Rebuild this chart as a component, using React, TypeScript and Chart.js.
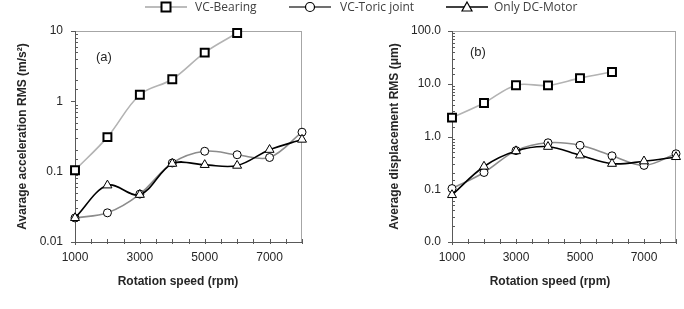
import React, { useEffect, useRef } from "react";
import { Chart, registerables } from "chart.js";

Chart.register(...registerables);

// ---- data ----
const speeds = [1000, 2000, 3000, 4000, 5000, 6000, 7000, 8000];
const bearingSpeeds = [1000, 2000, 3000, 4000, 5000, 6000];
const accBearing = [0.105, 0.31, 1.24, 2.06, 4.93, 9.35];
const accToric = [0.022, 0.026, 0.048, 0.133, 0.195, 0.174, 0.159, 0.364];
const accMotor = [0.022, 0.064, 0.047, 0.13, 0.125, 0.122, 0.205, 0.286];
const dispBearing = [2.28, 4.33, 9.4, 9.3, 12.8, 16.7];
const dispToric = [0.103, 0.208, 0.54, 0.76, 0.68, 0.43, 0.283, 0.47];
const dispMotor = [0.078, 0.27, 0.53, 0.64, 0.44, 0.305, 0.34, 0.41];
const xTickLabels = [1000, 3000, 5000, 7000];
const seriesNames = ["VC-Bearing", "VC-Toric joint", "Only DC-Motor"];
const xTitle = "Rotation speed (rpm)";

const FONT = "'Liberation Sans', Arial, sans-serif";
Chart.defaults.font.family = FONT;

const isPow10 = (v: number) => {
  const l = Math.log10(v);
  return Math.abs(l - Math.round(l)) < 1e-6;
};

type Panel = {
  label: string;
  yTitle: string;
  yMin: number;
  yMax: number;
  fmt: (v: number) => string;
  bearing: number[];
  toric: number[];
  motor: number[];
  axisWidth: number;
  tickPad: number;
  yTitlePad: number;
  padRight: number;
  panelDx: number;
  panelDy: number;
  xTitleDx: number;
};

const panels: Panel[] = [
  {
    label: "(a)",
    yTitle: "Avarage acceleration RMS (m/s\u00B2)",
    yMin: 0.01,
    yMax: 10,
    fmt: (v) => String(v),
    bearing: accBearing,
    toric: accToric,
    motor: accMotor,
    axisWidth: 75,
    tickPad: 12,
    yTitlePad: 15,
    padRight: 40,
    panelDx: 21,
    panelDy: 26,
    xTitleDx: 103,
  },
  {
    label: "(b)",
    yTitle: "Average displacement RMS (\u03BCm)",
    yMin: 0.01,
    yMax: 100,
    fmt: (v) => v.toFixed(1),
    bearing: dispBearing,
    toric: dispToric,
    motor: dispMotor,
    axisWidth: 110,
    tickPad: 11,
    yTitlePad: 45,
    padRight: 2,
    panelDx: 18,
    panelDy: 21,
    xTitleDx: 98,
  },
];

const crisp = (v: number) => Math.round(v) + 0.5;

function framePlugin(p: Panel) {
  return {
    id: "frame",
    beforeDatasetsDraw(chart: any) {
      const { ctx, chartArea, scales } = chart;
      const { left, right, top, bottom } = chartArea;
      const x = scales.x;
      const y = scales.y;
      ctx.save();
      ctx.lineWidth = 1;
      // light frame top/right
      ctx.strokeStyle = "#a6a6a6";
      ctx.beginPath();
      ctx.moveTo(left, crisp(top));
      ctx.lineTo(right, crisp(top));
      ctx.moveTo(crisp(right - 1), top);
      ctx.lineTo(crisp(right - 1), bottom);
      ctx.stroke();
      // axes
      ctx.strokeStyle = "#595959";
      ctx.beginPath();
      ctx.moveTo(crisp(left), top);
      ctx.lineTo(crisp(left), bottom + 3);
      ctx.moveTo(left, crisp(bottom));
      ctx.lineTo(right, crisp(bottom));
      // y ticks
      y.ticks.forEach((t: any) => {
        const py = crisp(y.getPixelForValue(t.value));
        if (isPow10(t.value)) {
          ctx.moveTo(left - 4, py);
          ctx.lineTo(left, py);
        } else {
          ctx.moveTo(left, py);
          ctx.lineTo(left + 3, py);
        }
      });
      // x ticks
      x.ticks.forEach((t: any) => {
        const px = crisp(x.getPixelForValue(t.value));
        ctx.moveTo(px, bottom - 3);
        ctx.lineTo(px, bottom + 2);
      });
      ctx.stroke();
      // panel label
      ctx.fillStyle = "#262626";
      ctx.font = `13px ${FONT}`;
      ctx.textAlign = "left";
      ctx.textBaseline = "middle";
      ctx.fillText(p.label, left + p.panelDx, top + p.panelDy);
      // x title
      ctx.font = `bold 12px ${FONT}`;
      ctx.textAlign = "center";
      ctx.fillText(xTitle, left + p.xTitleDx, bottom + 40);
      ctx.restore();
    },
  };
}

function buildConfig(p: Panel): any {
  const pts = (xs: number[], ys: number[]) => xs.map((x, i) => ({ x, y: ys[i] }));
  return {
    type: "line",
    data: {
      datasets: [
        {
          label: seriesNames[0],
          data: pts(bearingSpeeds, p.bearing),
          borderColor: "#b3b3b3",
          borderWidth: 1.6,
          pointStyle: "rect",
          pointRadius: 5.6,
          pointBorderWidth: 2,
          pointBorderColor: "#000",
          pointBackgroundColor: "#fff",
          tension: 0.35,
          clip: false,
          order: 2,
        },
        {
          label: seriesNames[1],
          data: pts(speeds, p.toric),
          borderColor: "#8c8c8c",
          borderWidth: 1.6,
          pointStyle: "circle",
          pointRadius: 4,
          pointBorderWidth: 1,
          pointBorderColor: "#000",
          pointBackgroundColor: "#fff",
          tension: 0.35,
          clip: false,
          order: 1,
        },
        {
          label: seriesNames[2],
          data: pts(speeds, p.motor),
          borderColor: "#000",
          borderWidth: 1.6,
          pointStyle: "triangle",
          pointRadius: 5.2,
          pointBorderWidth: 1,
          pointBorderColor: "#000",
          pointBackgroundColor: "#fff",
          tension: 0.35,
          clip: false,
          order: 0,
        },
      ],
    },
    options: {
      animation: false,
      responsive: false,
      devicePixelRatio: 1,
      events: [],
      layout: { padding: { top: 31, right: p.padRight, left: 0, bottom: 0 } },
      plugins: { legend: { display: false }, tooltip: { enabled: false } },
      scales: {
        x: {
          type: "linear",
          min: 1000,
          max: 8000,
          grid: { display: false, drawTicks: false },
          border: { display: false },
          ticks: {
            stepSize: 500,
            autoSkip: false,
            maxRotation: 0,
            padding: 8,
            color: "#262626",
            font: { size: 12 },
            callback: (v: number) => (xTickLabels.includes(v) ? String(v) : ""),
          },
          afterFit: (s: any) => {
            s.height = 67;
          },
        },
        y: {
          type: "logarithmic",
          min: p.yMin,
          max: p.yMax,
          grid: { display: false, drawTicks: false },
          border: { display: false },
          ticks: {
            autoSkip: false,
            padding: p.tickPad,
            color: "#262626",
            font: { size: 12 },
            callback: (v: number) => (isPow10(v) ? p.fmt(v) : ""),
          },
          title: {
            display: true,
            text: p.yTitle,
            color: "#262626",
            font: { size: 12, weight: "bold" },
            padding: { top: p.yTitlePad, bottom: 0 },
          },
          afterFit: (s: any) => {
            s.width = p.axisWidth;
          },
        },
      },
    },
    plugins: [framePlugin(p)],
  };
}

function PanelChart({ panel, left }: { panel: Panel; left: number }) {
  const ref = useRef<HTMLCanvasElement>(null);
  useEffect(() => {
    const chart = new Chart(ref.current as HTMLCanvasElement, buildConfig(panel));
    return () => chart.destroy();
  }, [panel]);
  return (
    <canvas
      ref={ref}
      width={342}
      height={309}
      style={{ position: "absolute", left, top: 0, width: 342, height: 309 }}
    />
  );
}

function Marker({ kind }: { kind: number }) {
  if (kind === 0)
    return (
      <svg width="42" height="14" style={{ display: "block" }}>
        <line x1="0" y1="7" x2="42" y2="7" stroke="#a6a6a6" strokeWidth="1.6" />
        <rect x="16.5" y="2.5" width="9" height="9" fill="#fff" stroke="#000" strokeWidth="2" />
      </svg>
    );
  if (kind === 1)
    return (
      <svg width="42" height="14" style={{ display: "block" }}>
        <line x1="0" y1="7" x2="42" y2="7" stroke="#404040" strokeWidth="1.6" />
        <circle cx="21" cy="7" r="4.5" fill="#fff" stroke="#000" strokeWidth="1.2" />
      </svg>
    );
  return (
    <svg width="42" height="14" style={{ display: "block" }}>
      <line x1="0" y1="7" x2="42" y2="7" stroke="#000" strokeWidth="1.6" />
      <polygon points="21,2 26,11 16,11" fill="#fff" stroke="#000" strokeWidth="1.2" />
    </svg>
  );
}

const legendPos = [
  { line: 145, text: 195 },
  { line: 289, text: 340 },
  { line: 446, text: 494 },
];

export default function App() {
  return (
    <div
      style={{
        position: "absolute",
        left: 0,
        top: 0,
        width: 684,
        height: 309,
        background: "#fff",
        overflow: "hidden",
      }}
    >
      <PanelChart panel={panels[0]} left={0} />
      <PanelChart panel={panels[1]} left={342} />
      {seriesNames.map((name, i) => (
        <React.Fragment key={name}>
          <div style={{ position: "absolute", left: legendPos[i].line, top: 0 }}>
            <Marker kind={i} />
          </div>
          <div
            style={{
              position: "absolute",
              left: legendPos[i].text,
              top: 0,
              height: 14,
              lineHeight: "14px",
              fontFamily: "'Open Sans', sans-serif",
              fontSize: 12,
              color: "#404040",
              whiteSpace: "nowrap",
            }}
          >
            {name}
          </div>
        </React.Fragment>
      ))}
    </div>
  );
}
